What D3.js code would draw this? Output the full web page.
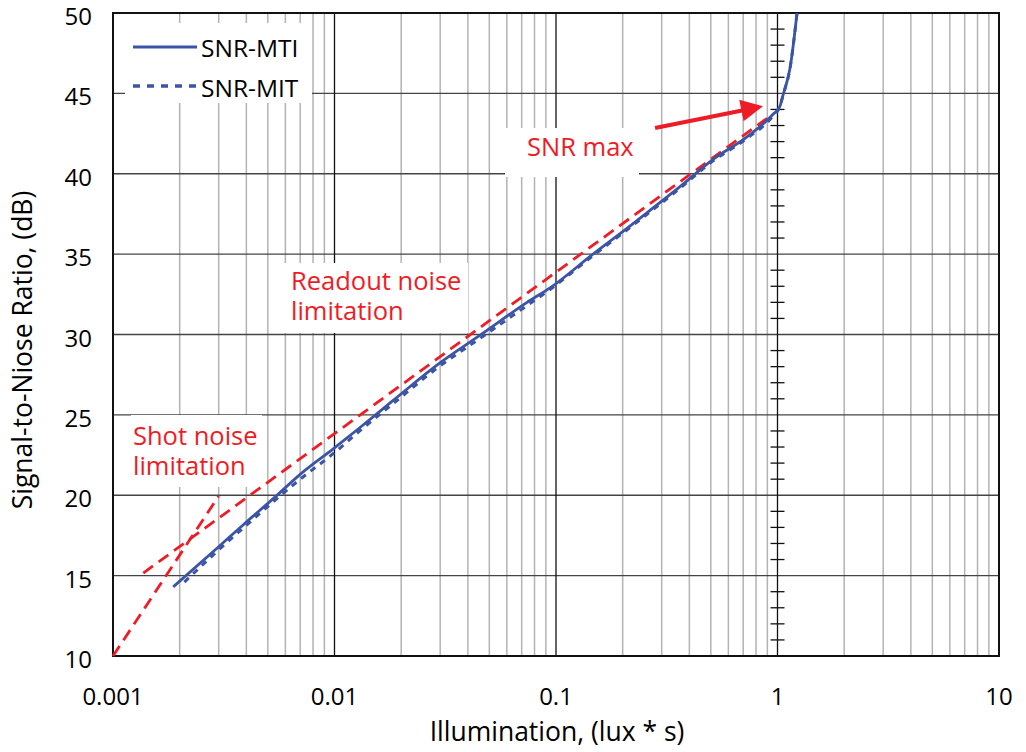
<!DOCTYPE html>
<html lang="en">
<head>
    <meta charset="UTF-8">
    <style>
        body { margin: 0; background: #fff; }
        text { font-family: "Open Sans", "Noto Sans", sans-serif; }
    </style>
</head>
<body>
    <svg width="1026" height="752"></svg>
    <script src="https://d3js.org/d3.v7.min.js"></script>
    <script>
        // SNR-MTI (solid) and SNR-MIT (dashed)
        let mtiX = [0.00187, 0.003, 0.0039, 0.0054, 0.007, 0.0099, 0.013, 0.0184, 0.029, 0.047, 0.074, 0.094, 0.15, 0.2, 0.27, 0.363, 0.512, 0.728, 0.955, 1.026, 1.06, 1.14, 1.225]
        let mtiY = [14.3, 16.8, 18.2, 19.9, 21.3, 22.9, 24.2, 25.9, 28.1, 30.1, 32.0, 32.9, 35.1, 36.4, 37.8, 39.2, 40.9, 42.3, 43.7, 44.2, 44.9, 46.6, 50.0]
        let mitX = [0.0021, 0.003, 0.0039, 0.0054, 0.007, 0.0099, 0.013, 0.0184, 0.029, 0.047, 0.074, 0.094, 0.15, 0.2, 0.27, 0.363, 0.512, 0.728, 0.955, 1.026, 1.06, 1.14, 1.225]
        let mitY = [14.6, 16.6, 18.0, 19.7, 21.0, 22.6, 24.0, 25.7, 27.9, 29.9, 31.8, 32.8, 35.0, 36.3, 37.7, 39.1, 40.8, 42.2, 43.6, 44.2, 44.9, 46.6, 50.0]

        // red fit lines and the arrow
        let shotX = [0.001, 0.003]
        let shotY = [10, 19.95]
        let readX = [0.00137, 0.95]
        let readY = [15.16, 43.7]
        let arrowX = [0.28, 0.86]
        let arrowY = [42.85, 44.2]

        let xTicks = [0.001, 0.01, 0.1, 1, 10]
        let xTickLabels = ["0.001", "0.01", "0.1", "1", "10"]
        let yTicks = [10, 15, 20, 25, 30, 35, 40, 45, 50]

        const blue = "#3b54a5", red = "#ee1c25"

        var svg = d3.select("svg")

        var x = d3.scaleLog().domain([0.001, 10]).range([113, 999])
        var y = d3.scaleLinear().domain([10, 50]).range([656, 13])

        var zip = (xs, ys) => xs.map((v, i) => ({ x: v, y: ys[i] }))
        var line = d3.line().x(d => x(d.x)).y(d => y(d.y)).curve(d3.curveMonotoneX)
        var straight = d3.line().x(d => x(d.x)).y(d => y(d.y))

        // minor vertical grid
        let minor = []
        for (let e = -3; e < 1; e++) {
            for (let k = 2; k <= 9; k++) minor.push(k * Math.pow(10, e))
        }
        svg.append("g").selectAll("line")
            .data(minor).enter().append("line")
            .attr("x1", d => x(d)).attr("x2", d => x(d))
            .attr("y1", y(10)).attr("y2", y(50))
            .attr("stroke", "#b3b3b3").attr("stroke-width", 1.5)

        // horizontal grid
        svg.append("g").selectAll("line")
            .data(yTicks).enter().append("line")
            .attr("x1", x(0.001)).attr("x2", x(10))
            .attr("y1", d => y(d)).attr("y2", d => y(d))
            .attr("stroke", "#444").attr("stroke-width", 1.3)

        // decade lines
        svg.append("g").selectAll("line")
            .data(xTicks).enter().append("line")
            .attr("x1", d => x(d)).attr("x2", d => x(d))
            .attr("y1", y(10)).attr("y2", y(50))
            .attr("stroke", "#111").attr("stroke-width", 1.3)

        // small ticks on the line at 1 lux*s
        let oneTicks = d3.range(11, 50).filter(v => v % 5 != 0)
        svg.append("g").selectAll("line")
            .data(oneTicks).enter().append("line")
            .attr("x1", x(1) - 7).attr("x2", x(1) + 7)
            .attr("y1", d => y(d)).attr("y2", d => y(d))
            .attr("stroke", "#111").attr("stroke-width", 1.3)

        // white boxes behind labels
        let boxes = [
            [125, 23, 187, 80],
            [505, 128, 134, 49],
            [283, 263, 185, 70],
            [131, 415, 131, 72]
        ]
        svg.append("g").selectAll("rect")
            .data(boxes).enter().append("rect")
            .attr("x", d => d[0]).attr("y", d => d[1])
            .attr("width", d => d[2]).attr("height", d => d[3])
            .attr("fill", "#fff")

        // frame
        svg.append("rect")
            .attr("x", x(0.001)).attr("y", y(50))
            .attr("width", x(10) - x(0.001)).attr("height", y(10) - y(50))
            .attr("fill", "none").attr("stroke", "#111").attr("stroke-width", 2)

        var plot = svg.append("g")
        plot.append("defs").append("clipPath").attr("id", "clip")
            .append("rect")
            .attr("x", x(0.001)).attr("y", y(50))
            .attr("width", x(10) - x(0.001)).attr("height", y(10) - y(50))

        // red fits
        plot.append("path")
            .attr("d", straight(zip(shotX, shotY)))
            .attr("fill", "none").attr("stroke", red).attr("stroke-width", 2.8)
            .attr("stroke-dasharray", "12,7")
        plot.append("path")
            .attr("d", straight(zip(readX, readY)))
            .attr("fill", "none").attr("stroke", red).attr("stroke-width", 2.8)
            .attr("stroke-dasharray", "12,7")

        // blue curves
        plot.append("path")
            .attr("clip-path", "url(#clip)")
            .attr("d", line(zip(mitX, mitY)))
            .attr("fill", "none").attr("stroke", blue).attr("stroke-width", 3)
            .attr("stroke-dasharray", "6,6")
        plot.append("path")
            .attr("clip-path", "url(#clip)")
            .attr("d", line(zip(mtiX, mtiY)))
            .attr("fill", "none").attr("stroke", blue).attr("stroke-width", 2.8)

        // arrow
        let a0 = [x(arrowX[0]), y(arrowY[0])], a1 = [x(arrowX[1]), y(arrowY[1])]
        let ang = Math.atan2(a1[1] - a0[1], a1[0] - a0[0])
        let headLen = 22, headW = 11
        let base = [a1[0] - headLen * Math.cos(ang), a1[1] - headLen * Math.sin(ang)]
        plot.append("line")
            .attr("x1", a0[0]).attr("y1", a0[1])
            .attr("x2", base[0] + 2 * Math.cos(ang)).attr("y2", base[1] + 2 * Math.sin(ang))
            .attr("stroke", red).attr("stroke-width", 4)
        plot.append("polygon")
            .attr("points", [
                a1,
                [base[0] - headW * Math.sin(ang), base[1] + headW * Math.cos(ang)],
                [base[0] + headW * Math.sin(ang), base[1] - headW * Math.cos(ang)]
            ].map(p => p.join(",")).join(" "))
            .attr("fill", red)

        // legend
        let lg = svg.append("g")
        lg.append("line").attr("x1", 133).attr("x2", 197).attr("y1", 47).attr("y2", 47)
            .attr("stroke", blue).attr("stroke-width", 3)
        lg.append("line").attr("x1", 133).attr("x2", 197).attr("y1", 86).attr("y2", 86)
            .attr("stroke", blue).attr("stroke-width", 3.5).attr("stroke-dasharray", "7,7")
        lg.append("text").attr("x", 201).attr("y", 57).attr("font-size", 24.5).text("SNR-MTI")
        lg.append("text").attr("x", 201).attr("y", 97).attr("font-size", 24.5).text("SNR-MIT")

        // annotations (multi-line ones as tspans)
        let notes = [
            { x: 527, y: 156, lines: ["SNR max"] },
            { x: 291, y: 290, lines: ["Readout noise", "limitation"] },
            { x: 133, y: 445, lines: ["Shot noise", "limitation"] }
        ]
        svg.append("g").selectAll("text")
            .data(notes).enter().append("text")
            .attr("x", d => d.x).attr("y", d => d.y)
            .attr("font-size", 25.5).attr("fill", red)
            .each(function (d) {
                d3.select(this).selectAll("tspan")
                    .data(d.lines).enter().append("tspan")
                    .attr("x", d.x)
                    .attr("dy", (t, i) => i ? 30 : 0)
                    .text(t => t)
            })

        // tick labels
        svg.append("g").selectAll("text")
            .data(yTicks).enter().append("text")
            .attr("x", 92).attr("y", d => y(d) + 12)
            .attr("text-anchor", "end").attr("font-size", 24)
            .text(d => d)
        svg.append("g").selectAll("text")
            .data(xTicks).enter().append("text")
            .attr("x", d => x(d)).attr("y", 705)
            .attr("text-anchor", "middle").attr("font-size", 24)
            .text((d, i) => xTickLabels[i])

        // axis titles
        svg.append("text")
            .attr("x", 557).attr("y", 741)
            .attr("text-anchor", "middle").attr("font-size", 26.5)
            .text("Illumination, (lux * s)")
        svg.append("text")
            .attr("transform", "translate(32,350) rotate(-90)")
            .attr("text-anchor", "middle").attr("font-size", 26.5)
            .text("Signal-to-Niose Ratio, (dB)")
    </script>
</body>
</html>
